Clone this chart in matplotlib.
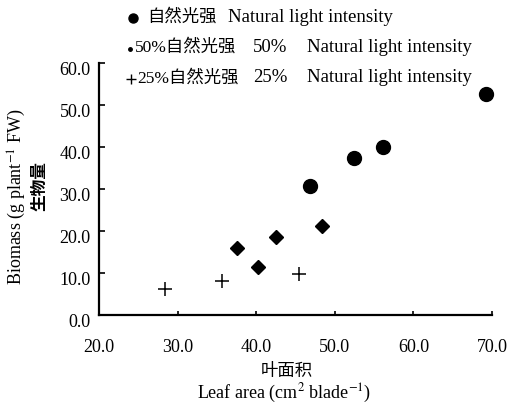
import matplotlib
matplotlib.use('Agg')
import matplotlib.pyplot as plt
import matplotlib.transforms as mtransforms

# данные
natural_x = [46.8, 52.4, 56.1, 69.2]
natural_y = [30.7, 37.3, 40.1, 52.6]
half_x = [37.6, 40.2, 42.5, 48.4]
half_y = [15.9, 11.5, 18.6, 21.2]
quarter_x = [28.4, 35.7, 45.5]
quarter_y = [6.2, 8.1, 9.7]

x_ticks = [20, 30, 40, 50, 60, 70]
y_ticks = [0, 10, 20, 30, 40, 50, 60]

plt.rcParams['font.family'] = ['Liberation Serif', 'Noto Sans CJK SC']
plt.rcParams['mathtext.fontset'] = 'stix'
plt.rcParams['font.size'] = 13

W, H = 519, 405
fig = plt.figure(figsize=(W / 100, H / 100), dpi=100)
ax = fig.add_axes([99 / W, 1 - 315 / H, (492 - 99) / W, (315 - 63) / H])


def fx(px):
    return px / W


def fy(py):
    return 1 - py / H


ax.plot(natural_x, natural_y, 'o', color='black', markersize=10, clip_on=False)
ax.plot(half_x, half_y, 'D', color='black', markersize=7, clip_on=False)
ax.plot(quarter_x, quarter_y, '+', color='black', markersize=10.5, markeredgewidth=1.1, clip_on=False)

ax.set_xlim(20, 70)
ax.set_ylim(0, 60)
ax.set_xticks(x_ticks)
ax.set_yticks(y_ticks)
ax.set_xticklabels([f'{v:.1f}' for v in x_ticks])
ax.set_yticklabels([f'{v:.1f}' for v in y_ticks])

for s in ['top', 'right']:
    ax.spines[s].set_visible(False)
for s in ['left', 'bottom']:
    ax.spines[s].set_linewidth(1.6)

ax.tick_params(axis='x', direction='in', length=3, width=1.2, pad=17, labelsize=13)
ax.tick_params(axis='y', direction='in', length=4, width=1.2, pad=6, labelsize=13)

# подписи оси y чуть ниже засечек, как в оригинале
shift = mtransforms.ScaledTranslation(0, -4 / 72, fig.dpi_scale_trans)
for lbl in ax.get_yticklabels():
    lbl.set_transform(lbl.get_transform() + shift)

# подписи осей
fig.text(fx(17), fy(197), 'Biomass (g plant$^{-1}$ FW)', rotation=90,
         ha='center', va='center', fontsize=13)
fig.text(fx(40), fy(186), '生物量', rotation=90, ha='center', va='center',
         fontsize=12, fontweight='bold')
fig.text(fx(287), fy(372), '叶面积', ha='center', va='center', fontsize=12.5,
         fontweight='medium')
fig.text(fx(284), fy(393), 'Leaf area (cm$^2$ blade$^{-1}$)', ha='center', va='center',
         fontsize=13)

# легенда текстом сверху, значки рисуются в координатах фигуры
ax.plot([fx(133)], [fy(18)], 'o', color='black', markersize=6.5,
        transform=fig.transFigure, clip_on=False)
ax.plot([fx(130)], [fy(49)], 'o', color='black', markersize=2.5,
        transform=fig.transFigure, clip_on=False)
ax.plot([fx(131)], [fy(79)], '+', color='black', markersize=7, markeredgewidth=1,
        transform=fig.transFigure, clip_on=False)

fig.text(fx(147), fy(17), '自然光强', ha='left', va='center', fontsize=12.5)
fig.text(fx(228), fy(17), 'Natural light intensity', ha='left', va='center', fontsize=13.5)

fig.text(fx(135), fy(47), '50%自然光强', ha='left', va='center', fontsize=12.5)
fig.text(fx(253), fy(47), '50%', ha='left', va='center', fontsize=13.5)
fig.text(fx(307), fy(47), 'Natural light intensity', ha='left', va='center', fontsize=13.5)

fig.text(fx(137), fy(78), '25%自然光强', ha='left', va='center', fontsize=12.5)
fig.text(fx(253), fy(78), '25%', ha='left', va='center', fontsize=13.5)
fig.text(fx(307), fy(78), 'Natural light intensity', ha='left', va='center', fontsize=13.5)

plt.savefig('out.png', dpi=100)
